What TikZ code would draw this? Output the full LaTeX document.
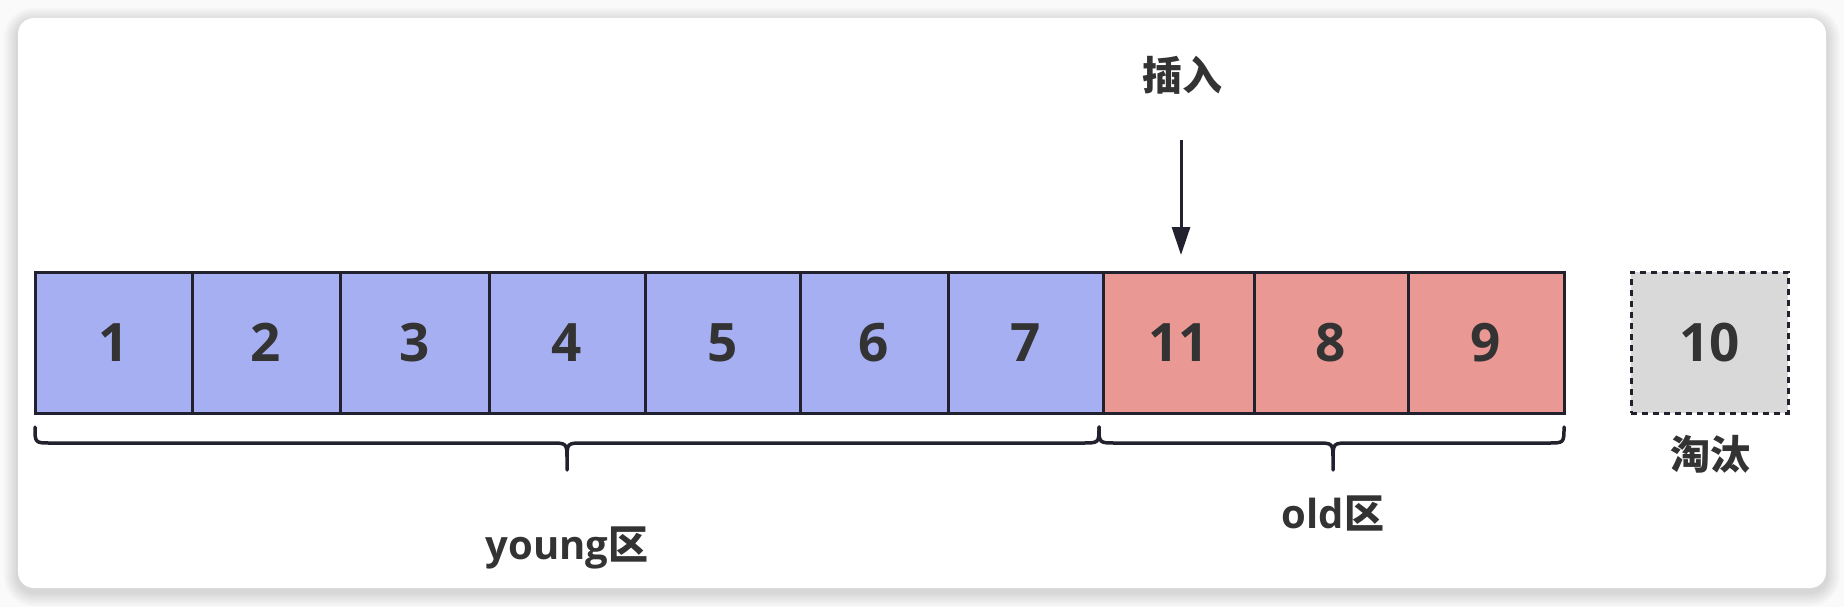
\documentclass[tikz,border=0pt]{standalone}
\usepackage{fontspec}
\setmainfont{Open Sans}
\newfontfamily\cjk{Noto Sans CJK SC}
\usetikzlibrary{arrows.meta}
\definecolor{bgout}{HTML}{FAFAFA}
\definecolor{blueF}{HTML}{A6AFF2}
\definecolor{redF}{HTML}{EA9893}
\definecolor{grayF}{HTML}{D9D9D9}
\definecolor{edge}{HTML}{22222E}
\definecolor{txt}{HTML}{333333}
\tikzset{
  cell/.style={draw=edge, line width=3pt, minimum height=141pt, inner sep=0pt,
    text=txt, font=\fontsize{53}{60}\selectfont\bfseries},
  ycell/.style={cell, fill=blueF},
  ocell/.style={cell, fill=redF},
  gonecell/.style={cell, fill=grayF, dash pattern=on 6pt off 5pt},
  lbl/.style={text=txt, inner sep=0pt, font=\fontsize{40}{46}\selectfont\bfseries},
  bracepath/.style={draw=edge, line width=3.5pt, line cap=round, line join=round},
  arr/.style={draw=edge, line width=3pt, -{Triangle[length=28pt,width=18pt]}}
}
\begin{document}
\begin{tikzpicture}[x=1pt,y=-1pt]
\useasboundingbox (0,0) rectangle (1844,607);
\fill[bgout] (0,0) rectangle (1844,607);
% soft shadow
\foreach \i in {14,12,10,8,6,4,2}{
  \fill[black,opacity=0.018,rounded corners=16pt+\i pt] (18-\i,18-\i+4) rectangle (1826+\i,588+\i+4);
}
\fill[white,rounded corners=16pt] (18,18) rectangle (1826,588);

% cells
\node[ycell, minimum width=157pt] (c1) at (113.5,342.5) {1};
\node[ycell, minimum width=148pt] (c2) at (266,342.5) {2};
\node[ycell, minimum width=149pt] (c3) at (414.5,342.5) {3};
\node[ycell, minimum width=156pt] (c4) at (567,342.5) {4};
\node[ycell, minimum width=155pt] (c5) at (722.5,342.5) {5};
\node[ycell, minimum width=148pt] (c6) at (874,342.5) {6};
\node[ycell, minimum width=155pt] (c7) at (1025.5,342.5) {7};
\node[ocell, minimum width=151pt] (c11) at (1178.5,342.5) {11};
\node[ocell, minimum width=154pt] (c8) at (1331,342.5) {8};
\node[ocell, minimum width=156pt] (c9) at (1486,342.5) {9};
\node[gonecell, minimum width=157pt] (c10) at (1709.5,342.5) {10};

% insert arrow
\node[lbl] (ins) at (1182,75) {\cjk 插入};
\coordinate (arrtop) at (1181,140);
\draw[arr] (arrtop) -- (1181,255);

% braces
\draw[bracepath] (35,427) .. controls (35,443) .. (51,443) -- (550,443)
  .. controls (567,443) .. (567,460) -- (567,470) -- (567,460)
  .. controls (567,443) .. (584,443) -- (1082,443) .. controls (1099,443) .. (1099,427);
\draw[bracepath] (1099,427) .. controls (1099,443) .. (1116,443) -- (1316,443)
  .. controls (1333,443) .. (1333,460) -- (1333,470) -- (1333,460)
  .. controls (1333,443) .. (1350,443) -- (1548,443) .. controls (1564,443) .. (1564,427);

% labels
\node[lbl] (young) at (567,548) {young{\cjk 区}};
\node[lbl] (old) at (1333,513) {old{\cjk 区}};
\node[lbl] (evict) at (1710,454) {\cjk 淘汰};
\end{tikzpicture}
\end{document}
